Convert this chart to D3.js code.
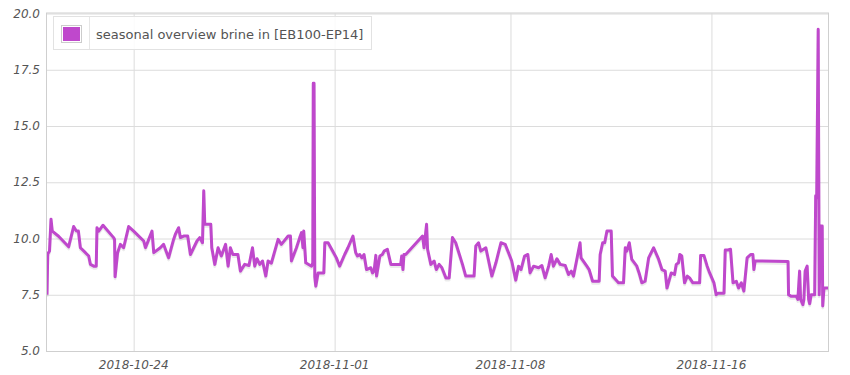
<!DOCTYPE html>
<html>
<head>
<meta charset="utf-8">
<script src="https://cdn.jsdelivr.net/npm/d3@7"></script>
<style>
    body { margin: 0; background: #fff; }
    #chart { width: 850px; height: 375px; }
    .tick-label { font-family: "DejaVu Sans", sans-serif; font-size: 12px; font-style: italic; fill: #555; }
    .legend-label { font-family: "DejaVu Sans", sans-serif; font-size: 13px; fill: #545454; }
</style>
</head>
<body>
<div id="chart"></div>
<script>

// series: days after startDate (fractional) and brine temperature
const startDate = "2018-10-20T00:00:00Z";
const seriesLabel = "seasonal overview brine in [EB100-EP14]";

const dayOffsets = [
    0.55, 0.58, 0.65, 0.71, 0.76, 1.01, 1.41, 1.61, 1.72, 1.80, 1.88, 2.08, 2.21, 2.28, 2.41, 2.51,
    2.54, 2.61, 2.78, 3.20, 3.24, 3.26, 3.36, 3.47, 3.60, 3.80, 4.00, 4.40, 4.47, 4.60, 4.73, 4.80,
    5.06, 5.19, 5.39, 5.59, 5.66, 5.79, 5.86, 5.99, 6.15, 6.26, 6.52, 6.63, 6.74, 6.79, 6.83, 7.07,
    7.11, 7.23, 7.36, 7.49, 7.66, 7.76, 7.85, 7.95, 8.15, 8.25, 8.42, 8.59, 8.73, 8.82, 8.91, 9.02,
    9.13, 9.26, 9.35, 9.48, 9.75, 9.88, 10.15, 10.24, 10.28, 10.48, 10.61, 10.68, 10.74, 10.77, 10.85, 11.08,
    11.13, 11.15, 11.18, 11.21, 11.25, 11.34, 11.57, 11.61, 11.74, 12.07, 12.20, 12.40, 12.53, 12.73, 12.84, 12.91,
    13.00, 13.08, 13.17, 13.27, 13.44, 13.51, 13.57, 13.64, 13.67, 13.80, 13.90, 13.97, 14.10, 14.24, 14.63, 14.67,
    14.72, 14.76, 14.83, 15.50, 15.56, 15.66, 15.70, 15.83, 15.96, 16.05, 16.16, 16.27, 16.43, 16.56, 16.69, 16.82,
    17.09, 17.22, 17.55, 17.62, 17.73, 17.82, 18.02, 18.09, 18.26, 18.42, 18.62, 18.79, 18.95, 19.05, 19.21, 19.32,
    19.42, 19.56, 19.69, 19.78, 19.92, 20.12, 20.25, 20.38, 20.52, 20.62, 20.71, 20.85, 20.98, 21.18, 21.31, 21.42,
    21.51, 21.64, 21.77, 21.81, 22.04, 22.13, 22.27, 22.53, 22.57, 22.67, 22.75, 22.84, 23.01, 23.06, 23.30, 23.50,
    23.57, 23.63, 23.73, 23.83, 24.03, 24.12, 24.23, 24.36, 24.50, 24.70, 24.90, 25.03, 25.16, 25.23, 25.40, 25.53,
    25.60, 25.69, 25.74, 25.82, 25.93, 26.04, 26.13, 26.26, 26.53, 26.57, 26.70, 26.83, 26.93, 27.10, 27.19, 27.26,
    27.50, 27.55, 27.66, 27.76, 27.86, 27.99, 28.08, 28.19, 28.29, 28.42, 28.56, 28.65, 28.69, 28.74, 30.05, 30.07,
    30.18, 30.38, 30.44, 30.51, 30.55, 30.64, 30.68, 30.73, 30.81, 30.87, 30.91, 30.97, 31.11, 31.15, 31.19, 31.25,
    31.29, 31.35, 31.41, 31.43, 31.48, 31.64
];

const brineValues = [
    7.50, 9.31, 9.44, 10.86, 10.33, 10.10, 9.63, 10.53, 10.33, 10.33, 9.59, 9.37, 9.22, 8.85, 8.77, 8.77,
    10.48, 10.33, 10.59, 10.04, 9.96, 8.30, 9.37, 9.74, 9.59, 10.53, 10.33, 9.89, 9.59, 9.96, 10.33, 9.37,
    9.59, 9.74, 9.14, 9.96, 10.19, 10.48, 10.04, 10.11, 10.11, 9.29, 9.89, 10.04, 9.81, 12.12, 10.63, 10.63,
    9.59, 8.85, 9.59, 9.22, 9.74, 8.77, 9.59, 9.29, 9.29, 8.55, 8.85, 8.80, 9.59, 8.77, 9.10, 8.85,
    9.00, 8.33, 9.00, 8.90, 9.96, 9.74, 10.11, 10.11, 9.00, 9.59, 10.04, 10.26, 9.59, 10.33, 8.92, 8.77,
    8.92, 16.90, 16.90, 8.30, 7.88, 8.47, 8.47, 9.81, 9.81, 9.14, 8.77, 9.29, 9.59, 10.11, 9.37, 9.22,
    9.29, 9.14, 9.29, 8.62, 8.70, 8.47, 8.55, 9.25, 8.33, 9.22, 9.29, 9.44, 9.52, 8.85, 8.85, 9.22,
    8.62, 9.29, 9.29, 10.11, 9.59, 10.63, 9.52, 8.85, 9.00, 8.62, 8.85, 8.70, 8.25, 8.25, 10.04, 9.81,
    8.85, 8.33, 8.33, 9.67, 9.81, 9.44, 9.59, 9.22, 8.33, 8.92, 9.81, 9.74, 9.29, 9.00, 8.15, 8.77,
    8.62, 9.22, 9.29, 8.47, 8.77, 8.70, 8.80, 8.25, 8.77, 9.29, 8.77, 9.10, 8.85, 8.80, 8.40, 8.55,
    8.33, 9.07, 9.81, 9.14, 8.77, 8.62, 8.10, 8.10, 9.29, 9.81, 9.81, 10.33, 10.33, 8.33, 8.03, 8.03,
    9.59, 9.44, 9.81, 9.07, 8.77, 8.47, 8.03, 8.10, 9.14, 9.59, 9.07, 8.62, 8.55, 7.80, 8.47, 8.40,
    8.85, 8.92, 9.29, 9.22, 8.03, 8.33, 8.25, 8.03, 8.03, 9.25, 9.25, 8.77, 8.47, 8.03, 7.50, 7.57,
    7.57, 9.49, 9.49, 9.52, 8.03, 8.10, 7.80, 8.03, 7.66, 9.14, 9.29, 9.29, 8.62, 9.00, 8.98, 7.50,
    7.43, 7.43, 7.29, 8.55, 7.29, 7.06, 7.29, 8.55, 8.77, 7.29, 7.10, 7.50, 7.50, 11.90, 11.80, 19.30,
    7.50, 10.56, 10.56, 7.00, 7.80, 7.80
];

const yTicks = [5.0, 7.5, 10.0, 12.5, 15.0, 17.5, 20.0];
const xTickLabels = ["2018-10-24", "2018-11-01", "2018-11-08", "2018-11-16"];


/*
 *  BrineChart - seasonal overview line chart
 */
class BrineChart {

    constructor(parentElement) {
        this.parentElement = parentElement;
        this.initVis();
    }

    initVis() {
        let vis = this;

        vis.width = 850;
        vis.height = 375;
        vis.plot = {left: 47, right: 828, top: 13.5, bottom: 351};

        vis.svg = d3.select("#" + vis.parentElement).append("svg")
            .attr("width", vis.width)
            .attr("height", vis.height);

        let start = new Date(startDate);
        vis.data = dayOffsets.map((d, i) => ({
            time: new Date(start.getTime() + d * 864e5),
            value: brineValues[i]
        }));

        vis.x = d3.scaleUtc()
            .domain(d3.extent(vis.data, d => d.time))
            .range([vis.plot.left, vis.plot.right]);

        vis.y = d3.scaleLinear()
            .domain([5, 20])
            .range([vis.plot.bottom, vis.plot.top]);

        vis.updateVis();
    }

    updateVis() {
        let vis = this;
        let p = vis.plot;
        let xTicks = xTickLabels.map(s => new Date(s + "T00:00:00Z"));

        // grid lines
        vis.svg.append("g")
            .attr("transform", `translate(0,${p.bottom})`)
            .call(d3.axisBottom(vis.x).tickValues(xTicks).tickSize(-(p.bottom - p.top)).tickFormat(""))
            .call(g => g.select(".domain").remove())
            .call(g => g.selectAll("line").attr("stroke", "#dcdcdc"));

        vis.svg.append("g")
            .attr("transform", `translate(${p.left},0)`)
            .call(d3.axisLeft(vis.y).tickValues(yTicks).tickSize(-(p.right - p.left)).tickFormat(""))
            .call(g => g.select(".domain").remove())
            .call(g => g.selectAll("line").attr("stroke", "#dcdcdc"));

        // plot border
        vis.svg.append("rect")
            .attr("x", p.left - 0.5)
            .attr("y", p.top - 0.5)
            .attr("width", p.right - p.left + 1)
            .attr("height", p.bottom - p.top + 1)
            .attr("fill", "none")
            .attr("stroke", "#cfcfcf");

        // tick labels
        vis.svg.append("g").selectAll("text")
            .data(yTicks)
            .join("text")
            .attr("class", "tick-label")
            .attr("x", 40)
            .attr("y", d => vis.y(d) + 4)
            .attr("text-anchor", "end")
            .text(d => d.toFixed(1));

        vis.svg.append("g").selectAll("text")
            .data(xTicks)
            .join("text")
            .attr("class", "tick-label")
            .attr("x", d => vis.x(d))
            .attr("y", 369)
            .attr("text-anchor", "middle")
            .text((d, i) => xTickLabels[i]);

        // line + shadow
        vis.svg.append("clipPath").attr("id", "plot-clip")
            .append("rect")
            .attr("x", p.left).attr("y", p.top)
            .attr("width", p.right - p.left).attr("height", p.bottom - p.top);

        let line = d3.line()
            .x(d => vis.x(d.time))
            .y(d => vis.y(d.value));

        let g = vis.svg.append("g").attr("clip-path", "url(#plot-clip)");

        g.append("path")
            .datum(vis.data)
            .attr("d", line)
            .attr("transform", "translate(0,2)")
            .attr("fill", "none")
            .attr("stroke", "rgba(0,0,0,0.08)")
            .attr("stroke-width", 3)
            .attr("stroke-linejoin", "round");

        g.append("path")
            .datum(vis.data)
            .attr("d", line)
            .attr("fill", "none")
            .attr("stroke", "#bf48cc")
            .attr("stroke-width", 3)
            .attr("stroke-linejoin", "round");

        // legend
        let legend = vis.svg.append("g");
        legend.append("rect")
            .attr("x", 53.5).attr("y", 16.5)
            .attr("width", 318).attr("height", 33)
            .attr("fill", "#fff")
            .attr("fill-opacity", 0.85)
            .attr("stroke", "#e2e2e2");
        legend.append("rect")
            .attr("x", 61.5).attr("y", 25.5)
            .attr("width", 20).attr("height", 17)
            .attr("fill", "none")
            .attr("stroke", "#cccccc");
        legend.append("rect")
            .attr("x", 63).attr("y", 27)
            .attr("width", 17).attr("height", 14)
            .attr("fill", "#bf48cc");
        legend.append("line")
            .attr("x1", 89.5).attr("x2", 89.5)
            .attr("y1", 17).attr("y2", 49)
            .attr("stroke", "#e6e6e6");
        legend.append("text")
            .attr("class", "legend-label")
            .attr("x", 96)
            .attr("y", 38.5)
            .text(seriesLabel);
    }
}

new BrineChart("chart");

</script>
</body>
</html>
